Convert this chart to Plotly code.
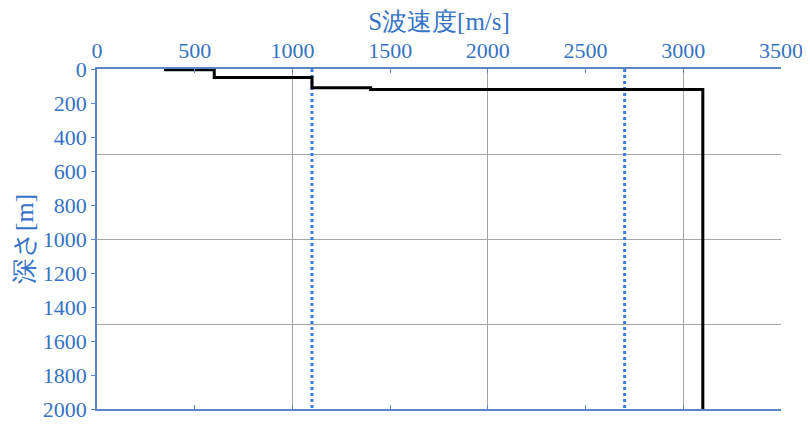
import plotly.graph_objects as go

# Layered S-wave velocity profile
vs_layers = [350, 600, 1100, 1400, 3100]          # m/s
layer_top = [0, 5, 50, 110, 120]                  # m
layer_bottom = [5, 50, 110, 120, 2000]            # m

# Reference velocities (dotted lines)
ref_vs = [1100, 2700]

x_ticks = [0, 500, 1000, 1500, 2000, 2500, 3000, 3500]
y_ticks = [0, 200, 400, 600, 800, 1000, 1200, 1400, 1600, 1800, 2000]

BLUE = "#3573c4"
AXIS = "#5a86c5"
FONT = "'Liberation Serif', 'Times New Roman', 'DejaVu Serif', serif"

px, py = [], []
for v, t, b in zip(vs_layers, layer_top, layer_bottom):
    px += [v, v]
    py += [t, b]

fig = go.Figure()
for v in ref_vs:
    fig.add_trace(go.Scatter(x=[v, v], y=[0, 2000], mode="lines",
                             line=dict(color="#3a7ee0", width=3, dash="dot"),
                             showlegend=False, hoverinfo="skip"))
fig.add_trace(go.Scatter(x=px, y=py, mode="lines",
                         line=dict(color="black", width=3),
                         showlegend=False))
fig.add_trace(go.Scatter(x=[0], y=[0], xaxis="x2", yaxis="y2", mode="markers",
                         marker=dict(opacity=0), showlegend=False, hoverinfo="skip"))

fig.update_layout(
    width=802, height=418,
    margin=dict(l=89, r=29, t=61, b=17, autoexpand=False),
    plot_bgcolor="white", paper_bgcolor="white",
    font=dict(family=FONT, color=BLUE, size=22),
    xaxis=dict(side="top", range=[0, 3500], tickvals=x_ticks,
               ticktext=[str(v) for v in x_ticks], automargin=False,
               showgrid=False, zeroline=False, showline=True, linecolor=AXIS,
               linewidth=1.5, mirror="ticks", ticks="inside", ticklen=4,
               tickcolor=AXIS, layer="above traces",
               title=dict(text="S波速度[m/s]", font=dict(size=25, color=BLUE), standoff=2),
               tickfont=dict(size=22, color=BLUE)),
    yaxis=dict(range=[2000, 0], tickvals=y_ticks, automargin=False,
               ticktext=[str(v) for v in y_ticks],
               showgrid=False, zeroline=False, showline=True, linecolor=AXIS,
               linewidth=1.5, ticks="outside", ticklen=4, tickcolor=AXIS,
               layer="above traces",
               title=dict(text="深さ[m]", font=dict(size=26, color=BLUE), standoff=2),
               tickfont=dict(size=22, color=BLUE)),
    xaxis2=dict(overlaying="x", range=[0, 3500], dtick=1000, tick0=0,
                showgrid=True, gridcolor="#a6a6a6", gridwidth=1, automargin=False,
                showticklabels=False, zeroline=False, showline=False, ticks=""),
    yaxis2=dict(overlaying="y", range=[2000, 0], dtick=500, tick0=0,
                showgrid=True, gridcolor="#a6a6a6", gridwidth=1, automargin=False,
                showticklabels=False, zeroline=False, showline=False, ticks=""),
)
fig.write_html("out.html")
